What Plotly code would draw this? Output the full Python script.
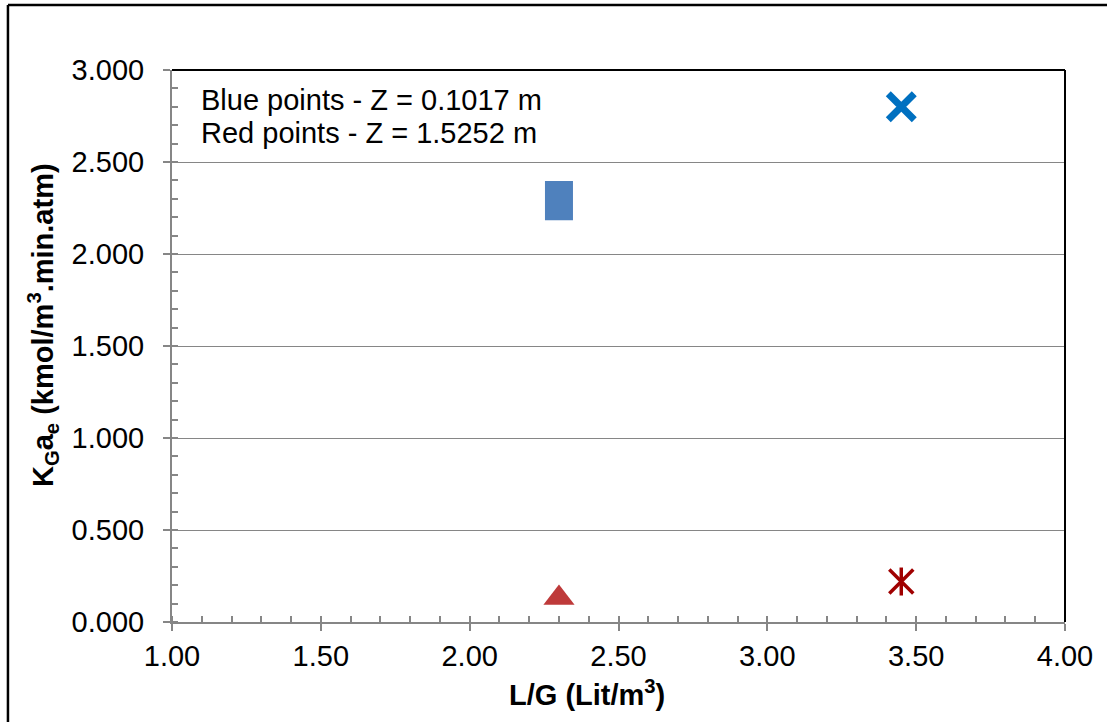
import plotly.graph_objects as go

# Measured mass-transfer coefficients vs liquid/gas ratio
blue_sq_x = [2.30]
blue_sq_y = [2.29]
blue_x_x = [3.45]
blue_x_y = [2.80]
red_tri_x = [2.30]
red_tri_y = [0.13]
red_star_x = [3.45]
red_star_y = [0.22]

x_ticks = [1.00, 1.50, 2.00, 2.50, 3.00, 3.50, 4.00]
y_ticks = [0.0, 0.5, 1.0, 1.5, 2.0, 2.5, 3.0]

FONT = "Liberation Sans, Arial, sans-serif"
AXIS_GREY = "#868686"
FS = 29

fig = go.Figure()

# Blue rectangle marker (vertical thick line gives a taller-than-wide block)
fig.add_trace(go.Scatter(
    x=blue_sq_x, y=blue_sq_y, mode="markers",
    marker=dict(symbol="line-ns-open", size=28, color="#4F81BD",
                line=dict(width=28, color="#4F81BD")),
    showlegend=False, hoverinfo="x+y"))

# Blue cross
fig.add_trace(go.Scatter(
    x=blue_x_x, y=blue_x_y, mode="markers",
    marker=dict(symbol="x-thin-open", size=26, color="#0070C0",
                line=dict(width=7, color="#0070C0")),
    showlegend=False, hoverinfo="x+y"))

# Red triangle
fig.add_trace(go.Scatter(
    x=red_tri_x, y=red_tri_y, mode="markers",
    marker=dict(symbol="triangle-up", size=27, color="#BE3A3A",
                line=dict(width=0)),
    showlegend=False, hoverinfo="x+y"))

# Dark red star: diagonal cross plus vertical stroke
fig.add_trace(go.Scatter(
    x=red_star_x, y=red_star_y, mode="markers",
    marker=dict(symbol="x-thin-open", size=24, color="#A00000",
                line=dict(width=3.5, color="#A00000")),
    showlegend=False, hoverinfo="skip"))
fig.add_trace(go.Scatter(
    x=red_star_x, y=red_star_y, mode="markers",
    marker=dict(symbol="line-ns-open", size=20, color="#A00000",
                line=dict(width=3.5, color="#A00000")),
    showlegend=False, hoverinfo="x+y"))

fig.update_layout(
    width=1107, height=722,
    margin=dict(l=172, r=42, t=70, b=100),
    paper_bgcolor="white", plot_bgcolor="white",
    font=dict(family=FONT, size=FS, color="black"),
    xaxis=dict(
        range=[1.0, 4.0], tickvals=x_ticks,
        ticktext=[f"{v:.2f}" for v in x_ticks],
        showgrid=False, zeroline=False,
        showline=True, linecolor=AXIS_GREY, linewidth=2,
        ticks="outside", ticklen=7, tickwidth=1.5, tickcolor=AXIS_GREY,
        minor=dict(ticks="inside", dtick=0.1, ticklen=6, tickwidth=1.5,
                   tickcolor=AXIS_GREY, showgrid=False),
        tickfont=dict(size=FS, family=FONT),
    ),
    yaxis=dict(
        range=[0.0, 3.0], tickvals=y_ticks,
        ticktext=[f"{v:.3f}" for v in y_ticks],
        showgrid=True, gridcolor=AXIS_GREY, gridwidth=1,
        zeroline=False,
        showline=True, linecolor=AXIS_GREY, linewidth=2,
        ticks="outside", ticklen=7, tickwidth=1.5, tickcolor=AXIS_GREY,
        ticklabelstandoff=13,
        minor=dict(ticks="inside", dtick=0.1, ticklen=6, tickwidth=1.5,
                   tickcolor=AXIS_GREY, showgrid=False),
        tickfont=dict(size=FS, family=FONT),
    ),
    shapes=[
        # plot-area border on top and right
        dict(type="line", xref="x domain", yref="y domain",
             x0=0, x1=1, y0=1, y1=1, line=dict(color="black", width=2)),
        dict(type="line", xref="x domain", yref="y domain",
             x0=1, x1=1, y0=0, y1=1, line=dict(color="black", width=2)),
        # outer chart frame
        dict(type="line", xref="paper", yref="paper",
             x0=-0.1837, x1=1.06, y0=1.1178, y1=1.1178,
             line=dict(color="black", width=2.5)),
        dict(type="line", xref="paper", yref="paper",
             x0=-0.1837, x1=-0.1837, y0=1.1178, y1=-0.2,
             line=dict(color="black", width=2.5)),
    ],
    annotations=[
        dict(text="Blue points - Z = 0.1017 m", xref="paper", yref="paper",
             x=(199 - 172) / 893, y=(622 - 100) / 552,
             xanchor="left", yanchor="middle",
             showarrow=False, font=dict(size=FS, family=FONT)),
        dict(text="Red points - Z = 1.5252 m", xref="paper", yref="paper",
             x=(199 - 172) / 893, y=(622 - 133) / 552,
             xanchor="left", yanchor="middle",
             showarrow=False, font=dict(size=FS, family=FONT)),
        # axis titles
        dict(text="<b>L/G (Lit/m<sup>3</sup>)</b>", xref="paper", yref="paper",
             x=(587 - 172) / 893, y=(622 - 693) / 552,
             xanchor="center", yanchor="middle",
             showarrow=False, font=dict(size=FS, family=FONT)),
        dict(text="<b>K<sub>G</sub>a<sub>e</sub> (kmol/m<sup>3</sup>.min.atm)</b>",
             xref="paper", yref="paper",
             x=(43 - 172) / 893, y=(622 - 325) / 552,
             xanchor="center", yanchor="middle", textangle=-90,
             showarrow=False, font=dict(size=FS, family=FONT)),
    ],
)

fig.write_html("out.html")
